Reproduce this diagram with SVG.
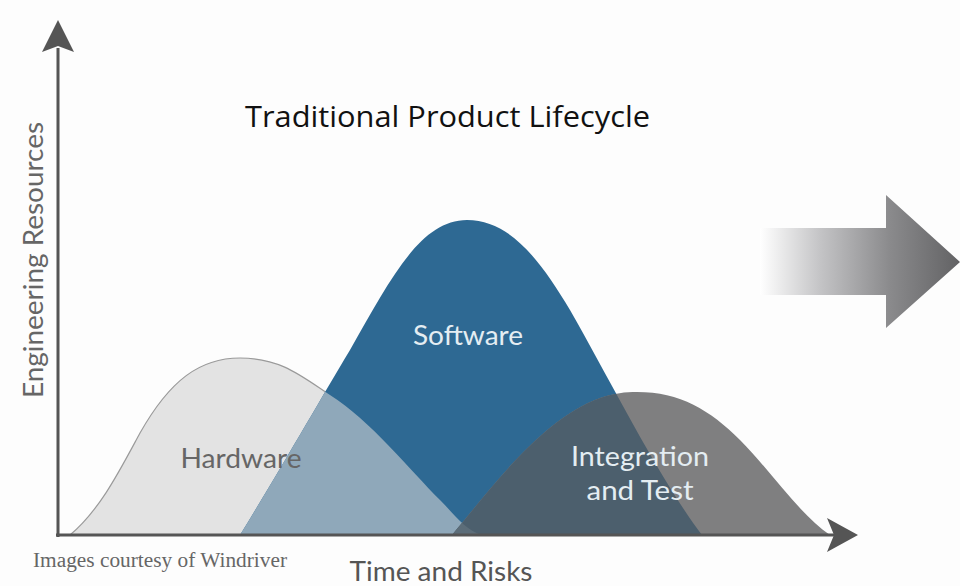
<svg xmlns="http://www.w3.org/2000/svg" width="960" height="586" viewBox="0 0 960 586">
<defs>
<style>
.lbl{font-family:Lato,"Open Sans","Liberation Sans",sans-serif;font-size:26px;text-anchor:middle}
.white{fill:#e4edf2}
.gray{fill:#666}
</style>
<path id="hwPath" d="M70,535 C100,510 120,470 140,433 C170,380 200,358 240,358 C280,358 300,375 330,395 C370,420 410,470 440,500 C455,515 465,530 482,535 Z"/>
<path id="swPath" d="M240,535 C280,470 320,400 350,350 C390,280 420,220 467,220 C510,220 540,260 570,310 C610,380 660,480 702,535 Z"/>
<path id="itPath" d="M452,535 C490,490 540,420 600,398 C615,393 625,392 637,392 C680,392 710,410 740,440 C770,470 800,515 830,535 Z"/>
<clipPath id="clipSw"><use href="#swPath"/></clipPath>
<clipPath id="clipHw"><use href="#hwPath"/></clipPath>
<linearGradient id="arrGrad" x1="760" y1="0" x2="960" y2="0" gradientUnits="userSpaceOnUse">
<stop offset="0" stop-color="#ffffff"/>
<stop offset="0.3" stop-color="#c4c4c6"/>
<stop offset="0.65" stop-color="#8a8a8c"/>
<stop offset="1" stop-color="#626264"/>
</linearGradient>
</defs>
<rect width="960" height="586" fill="#fdfdfd"/>
<text x="245" y="127" font-family="'Open Sans','Noto Sans','Liberation Sans',sans-serif" font-size="30" fill="#111" textLength="405" lengthAdjust="spacingAndGlyphs">Traditional Product Lifecycle</text>
<g id="hardware">
<use href="#hwPath" fill="#e3e3e3" stroke="#9a9a9a" stroke-width="1.2"/>
</g>
<g id="software">
<use href="#swPath" fill="#2e6993"/>
<use href="#hwPath" fill="#8fa8ba" clip-path="url(#clipSw)"/>
</g>
<g id="integration">
<use href="#itPath" fill="#7f7f80"/>
<use href="#itPath" fill="#4c5f6d" clip-path="url(#clipSw)"/>
<use href="#itPath" fill="#5c6d79" clip-path="url(#clipHw)"/>
</g>
<g id="connectors">
<line x1="58" y1="48" x2="58" y2="537" stroke="#555" stroke-width="3"/>
<polygon points="58,20 74,52 58,46 42,52" fill="#555"/>
<line x1="56" y1="535" x2="835" y2="535" stroke="#555" stroke-width="3"/>
<polygon points="858,535 827,518 834,535 827,552" fill="#555"/>
</g>
<g id="bigArrow">
<polygon points="760,228 886,228 886,195 960,262 886,328 886,295 760,295" fill="url(#arrGrad)"/>
</g>
<text class="lbl gray" transform="translate(43,260) rotate(-90)" textLength="276" lengthAdjust="spacingAndGlyphs">Engineering Resources</text>
<text class="lbl white" x="468" y="345" textLength="110" lengthAdjust="spacingAndGlyphs">Software</text>
<text class="lbl gray" x="241" y="468" textLength="121" lengthAdjust="spacingAndGlyphs">Hardware</text>
<text class="lbl white" x="640" y="466" textLength="138" lengthAdjust="spacingAndGlyphs">Integration</text>
<text class="lbl white" x="640" y="500" textLength="107" lengthAdjust="spacingAndGlyphs">and Test</text>
<text class="lbl" x="441" y="581" fill="#555" textLength="183" lengthAdjust="spacingAndGlyphs">Time and Risks</text>
<text x="33" y="567" font-family="'Liberation Serif',serif" font-size="20" fill="#666" textLength="254" lengthAdjust="spacingAndGlyphs">Images courtesy of Windriver</text>
</svg>
